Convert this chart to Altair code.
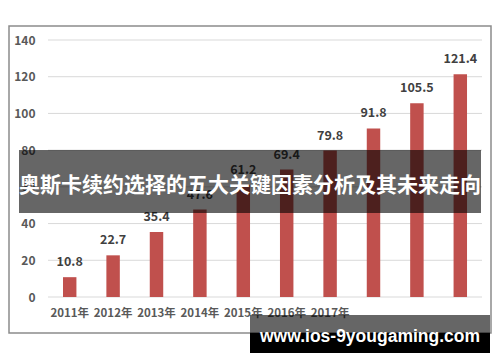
import altair as alt
import pandas as pd

categories = ["2011年", "2012年", "2013年", "2014年", "2015年", "2016年", "2017年", "2018年", "2019年", "2020年"]
shown_labels = ["2011年", "2012年", "2013年", "2014年", "2015年", "2016年", "2017年"]
values = [10.8, 22.7, 35.4, 47.6, 61.2, 69.4, 79.8, 91.8, 105.5, 121.4]
y_ticks = [0, 20, 40, 60, 80, 100, 120, 140]
banner_text = "奥斯卡续约选择的五大关键因素分析及其未来走向"
watermark_text = "www.ios-9yougaming.com"

FONT = "Noto Sans CJK SC"
df = pd.DataFrame({"year": categories, "value": values})
ticks_df = pd.DataFrame({"tick": y_ticks})
one = pd.DataFrame({"a": [0]})

label_list = "[" + ",".join("'" + s + "'" for s in shown_labels) + "]"
yscale = alt.Scale(domain=[0, 140], nice=False)
yaxis = alt.Axis(title=None, values=y_ticks, domain=False, ticks=False, grid=False,
                 labelPadding=13, labelFont=FONT, labelFontSize=12, labelOverlap=False,
                 labelFontWeight="bold", labelColor="#595959", labelBound=False,
                 labelFlush=False)

x = alt.X("year:N", sort=categories,
          scale=alt.Scale(paddingInner=0.69, paddingOuter=0.345),
          axis=alt.Axis(title=None, labelAngle=0, domain=False, ticks=False, grid=False,
                        labelPadding=10, labelFont=FONT, labelFontSize=11.5,
                        labelFontWeight="bold", labelColor="#595959", labelOverlap=False,
                        labelExpr="indexof(" + label_list + ", datum.value) >= 0 ? datum.value : ''"))

border = alt.Chart(one).mark_rect(fillOpacity=0, stroke="#8c8c8c", strokeWidth=1.5).encode(
    x=alt.value(-39), x2=alt.value(443), y=alt.value(-14), y2=alt.value(293))

grid = alt.Chart(ticks_df).mark_rule(color="#d9d9d9", strokeWidth=1).encode(
    y=alt.Y("tick:Q", scale=yscale, axis=yaxis), x=alt.value(0), x2=alt.value(434))

bars = alt.Chart(df).mark_bar(color="#c0504d").encode(
    x=x, y=alt.Y("value:Q", scale=yscale, axis=yaxis))
labels = alt.Chart(df).mark_text(baseline="bottom", dy=-8, font=FONT, fontSize=12.5,
                                  fontWeight="bold", color="#404040").encode(
    x=alt.X("year:N", sort=categories), y=alt.Y("value:Q", scale=yscale, axis=yaxis),
    text=alt.Text("value:Q", format=".1f"))

banner = alt.Chart(one).mark_rect(color="black", opacity=0.6).encode(
    x=alt.value(-29), x2=alt.value(433), y=alt.value(110), y2=alt.value(173))
banner_t = alt.Chart(one).mark_text(text=banner_text, font=FONT, fontSize=21, fontWeight="bold",
                                    color="white", align="center", baseline="middle").encode(
    x=alt.value(202), y=alt.value(146))

wm_band = alt.Chart(one).mark_rect(color="black", opacity=0.6).encode(
    x=alt.value(202), x2=alt.value(442), y=alt.value(275), y2=alt.value(293))
wm_box = alt.Chart(one).mark_rect(color="black").encode(
    x=alt.value(202), x2=alt.value(442), y=alt.value(293), y2=alt.value(313))
wm_t = alt.Chart(one).mark_text(text=watermark_text, font="Liberation Sans", fontSize=17.5,
                                fontWeight="bold", color="white", align="center",
                                baseline="middle").encode(
    x=alt.value(322), y=alt.value(297))

chart = alt.layer(border, grid, bars, labels, banner, banner_t, wm_band, wm_box, wm_t).properties(
    width=434, height=257,
    autosize=alt.AutoSizeParams(type="none"),
    padding={"left": 40, "top": 32, "right": 10, "bottom": 56},
    background="white",
).configure_view(stroke=None)

chart.save("out.html", embed_options={"renderer": "svg", "actions": False})
